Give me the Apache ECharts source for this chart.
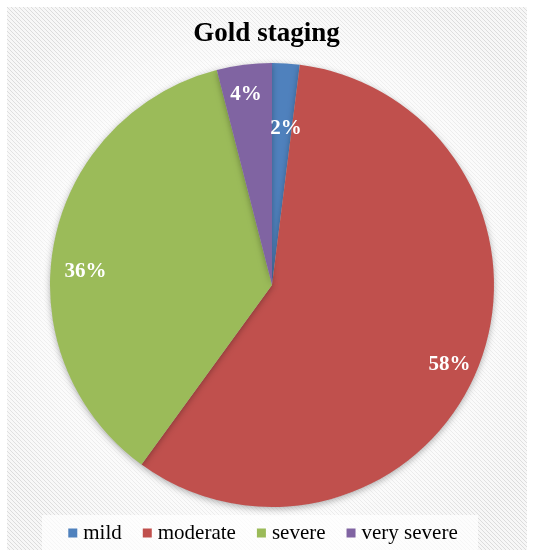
<!DOCTYPE html>
<html><head><meta charset="utf-8">
<script src="https://cdn.jsdelivr.net/npm/echarts@6/dist/echarts.min.js"></script>
<style>html,body{margin:0;padding:0;background:#fff}#c{width:533px;height:554px}</style>
</head><body><div id="c"></div>
<script>
var titleText = 'Gold staging';
var categories = ['mild', 'moderate', 'severe', 'very severe'];
var values = [2, 58, 36, 4];
var colors = ['#4F81BD', '#C0504D', '#9BBB59', '#8064A2'];
// label nudges (style only), relative to the ring position
var labelNudges = [[2, 34], [0, 9], [1, 22], [-2, -1]];

var pat = document.createElement('canvas');
pat.width = 4; pat.height = 4;
var pc = pat.getContext('2d');
pc.fillStyle = '#f7f7f7'; pc.fillRect(0, 0, 4, 4);
pc.strokeStyle = '#dcdcdc'; pc.lineWidth = 1;
pc.beginPath(); pc.moveTo(0, 0); pc.lineTo(4, 4); pc.moveTo(-2, 2); pc.lineTo(2, 6); pc.moveTo(2, -2); pc.lineTo(6, 2); pc.stroke();

var serif = 'Liberation Serif';

// legend built as graphic (serif text), laid out from measured text widths
var mc = document.createElement('canvas').getContext('2d');
mc.font = 'normal 21px "Liberation Serif"';
var legendSize = Math.round(Math.max(15, Math.min(21, 21 * 80 / mc.measureText('moderate').width)));
mc.font = 'normal ' + legendSize + 'px "Liberation Serif"';
var iconSize = 9, iconGap = 6, itemGap = 21, legendCx = 263, legendCy = 533;
var widths = categories.map(function (n) { return mc.measureText(n).width; });
var total = widths.reduce(function (a, w) { return a + iconSize + iconGap + w; }, 0) + itemGap * (categories.length - 1);
var lx = legendCx - total / 2;
var legendGraphics = [];
categories.forEach(function (n, i) {
  legendGraphics.push({ type: 'rect', z: 5, shape: { x: lx, y: legendCy - iconSize / 2, width: iconSize, height: iconSize }, style: { fill: colors[i] } });
  legendGraphics.push({ type: 'text', z: 5, x: lx + iconSize + iconGap, y: legendCy, style: { text: n, fontFamily: serif, fontSize: legendSize, fontWeight: 'normal', fill: '#000', verticalAlign: 'middle' } });
  lx += iconSize + iconGap + widths[i] + itemGap;
});

var data = categories.map(function (n, i) { return { name: n, value: values[i] }; });
var labelData = categories.map(function (n, i) { return { name: n, value: values[i], label: { offset: labelNudges[i] } }; });
var chart = echarts.init(document.getElementById('c'));
chart.setOption({
  backgroundColor: '#ffffff',
  color: colors,
  graphic: [
    { type: 'rect', z: -10, shape: { x: 7, y: 7, width: 520, height: 543 }, style: { fill: { image: pat, repeat: 'repeat' } } },
    { type: 'rect', z: -9, shape: { x: 7, y: 7, width: 520, height: 543 }, style: { fill: { type: 'radial', x: 0.5, y: 0.5, r: 0.62, colorStops: [{ offset: 0, color: 'rgba(255,255,255,1)' }, { offset: 0.55, color: 'rgba(255,255,255,0.85)' }, { offset: 1, color: 'rgba(255,255,255,0)' }] } } },
    { type: 'rect', z: -8, shape: { x: 42, y: 515, width: 436, height: 35 }, style: { fill: 'rgba(255,255,255,0.75)' } }
  ].concat(legendGraphics),
  title: { text: titleText, left: 'center', top: 16, textStyle: { fontFamily: serif, fontWeight: 'bold', fontSize: 27, color: '#000' } },
  legend: { show: false, data: categories },
  series: [
    {
      type: 'pie', center: [272, 285], radius: 222, startAngle: 90, clockwise: true,
      data: data, label: { show: false }, labelLine: { show: false },
      itemStyle: { shadowBlur: 6, shadowColor: 'rgba(0,0,0,0.3)', shadowOffsetY: 2 },
      emphasis: { disabled: true }
    },
    {
      type: 'pie', center: [272, 285], radius: [152, 224], startAngle: 90, clockwise: true, silent: true,
      data: labelData, itemStyle: { color: 'transparent' }, labelLine: { show: false },
      label: { show: true, position: 'inside', formatter: '{d}%', fontFamily: serif, fontWeight: 'bold', fontSize: 21, color: '#fff' },
      emphasis: { disabled: true }
    }
  ]
});
</script></body></html>
